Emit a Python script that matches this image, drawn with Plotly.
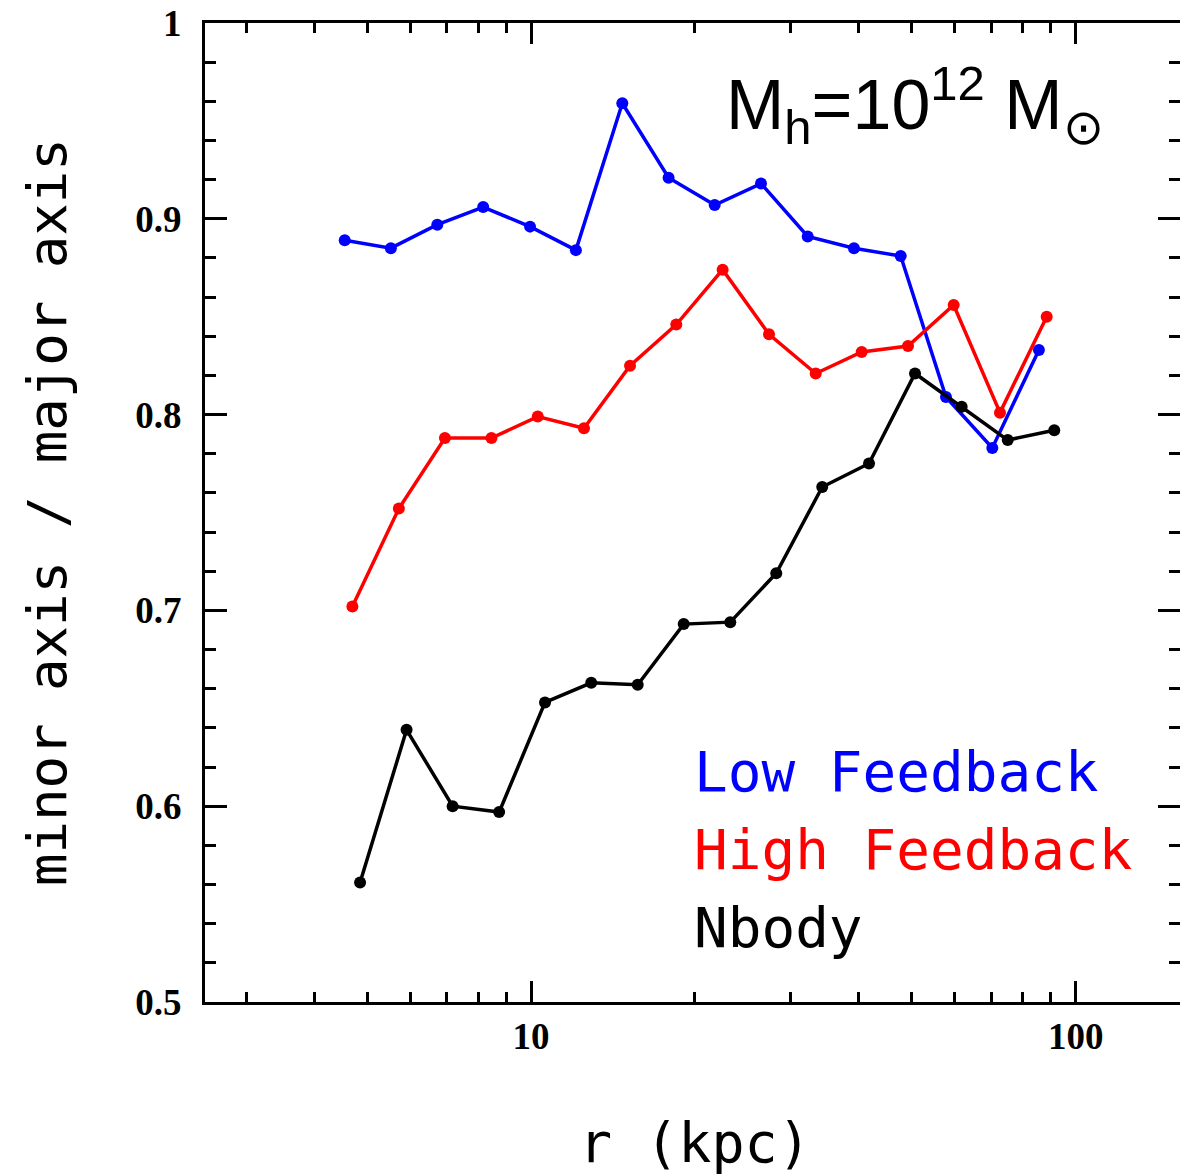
import plotly.graph_objects as go

# ---- data ----
r_low = [4.55, 5.53, 6.73, 8.17, 9.96, 12.09, 14.71, 17.89, 21.74, 26.44, 32.21, 39.17, 47.72, 57.79, 70.29, 85.6]
q_low = [0.889, 0.885, 0.897, 0.906, 0.896, 0.884, 0.959, 0.921, 0.907, 0.918, 0.891, 0.885, 0.881, 0.809, 0.783, 0.833]

r_high = [4.70, 5.72, 6.95, 8.46, 10.29, 12.51, 15.20, 18.48, 22.48, 27.35, 33.32, 40.47, 49.22, 59.70, 72.61, 88.46]
q_high = [0.702, 0.752, 0.788, 0.788, 0.799, 0.793, 0.825, 0.846, 0.874, 0.841, 0.821, 0.832, 0.835, 0.856, 0.801, 0.850]

r_nbody = [4.855, 5.91, 7.18, 8.74, 10.61, 12.90, 15.70, 19.07, 23.22, 28.20, 34.25, 41.74, 50.70, 61.75, 75.03, 91.34]
q_nbody = [0.561, 0.639, 0.600, 0.597, 0.653, 0.663, 0.662, 0.693, 0.694, 0.719, 0.763, 0.775, 0.821, 0.804, 0.787, 0.792]

x_major = [10, 100]
x_major_text = ["10", "100"]
x_minor = [3, 4, 5, 6, 7, 8, 9, 20, 30, 40, 50, 60, 70, 80, 90]
y_major = [0.5, 0.6, 0.7, 0.8, 0.9, 1.0]
y_major_text = ["0.5", "0.6", "0.7", "0.8", "0.9", "1"]

series = [
    ("Low Feedback", r_low, q_low, "#0000ff"),
    ("High Feedback", r_high, q_high, "#ff0000"),
    ("Nbody", r_nbody, q_nbody, "#000000"),
]

W, H = 1180, 1176
L, R, T, B = 205, 0, 23, 174

def px(xp):
    return (xp - L) / (W - L - R)

def py(yp):
    return (H - B - yp) / (H - T - B)

fig = go.Figure()
for name, xs, ys, col in series:
    fig.add_trace(go.Scatter(x=xs, y=ys, mode="lines+markers", name=name,
                             line=dict(color=col, width=3.5),
                             marker=dict(color=col, size=12),
                             showlegend=False))

tickfont = dict(family="Liberation Serif", size=37, color="black", weight="bold")
mono = "DejaVu Sans Mono"

ytick_common = dict(range=[0.5, 1.0], tickmode="array", tickvals=y_major,
                    ticks="inside", ticklen=22, tickwidth=2.5, tickcolor="black",
                    showgrid=False, zeroline=False,
                    minor=dict(dtick=0.02, tick0=0.5, ticks="inside",
                               ticklen=11, tickwidth=2.5, tickcolor="black", showgrid=False))

fig.update_layout(
    width=W, height=H,
    margin=dict(l=L, r=R, t=T, b=B, pad=0),
    paper_bgcolor="white", plot_bgcolor="white",
    xaxis=dict(type="log", range=[0.4015, 2.1915],
               tickmode="array", tickvals=x_major, ticktext=x_major_text,
               ticks="inside", ticklen=21, tickwidth=2.5, tickcolor="black",
               showline=True, linewidth=3, linecolor="black", mirror="ticks",
               showgrid=False, zeroline=False, tickfont=tickfont,
               ticklabelstandoff=0,
               minor=dict(tickmode="array", tickvals=x_minor, ticks="inside",
                          ticklen=10, tickwidth=2.5, tickcolor="black", showgrid=False)),
    yaxis=dict(**ytick_common, ticktext=y_major_text,
               showline=True, linewidth=3, linecolor="black", mirror=False,
               tickfont=tickfont, ticklabelstandoff=13),
    yaxis2=dict(**ytick_common, overlaying="y", side="right", anchor="x",
                showline=False, showticklabels=False),
)
# invisible trace to activate the right-hand tick axis
fig.add_trace(go.Scatter(x=[r_low[0]], y=[q_low[0]], yaxis="y2", mode="markers",
                         marker=dict(opacity=0), showlegend=False, hoverinfo="skip"))

ann = []
labels = [("Low Feedback", "#0000ff", 771), ("High Feedback", "#ff0000", 849), ("Nbody", "#000000", 927)]
for txt, col, yc in labels:
    ann.append(dict(text=txt, x=px(692), y=py(yc), xref="paper", yref="paper",
                    xanchor="left", yanchor="middle", showarrow=False,
                    font=dict(family=mono, size=56, color=col)))

ann.append(dict(text="minor axis / major axis", x=px(47), y=py(512), xref="paper", yref="paper",
                xanchor="center", yanchor="middle", textangle=-90, showarrow=False,
                font=dict(family=mono, size=54, color="black")))
ann.append(dict(text="r (kpc)", x=px(695), y=py(1143), xref="paper", yref="paper",
                xanchor="center", yanchor="middle", showarrow=False,
                font=dict(family=mono, size=55, color="black")))
ann.append(dict(text="M<sub>h</sub>=10<sup>12</sup> M<sub>⊙</sub>", x=px(724), y=py(105),
                xref="paper", yref="paper", xanchor="left", yanchor="middle", showarrow=False,
                font=dict(family="Liberation Sans", size=70, color="black")))
fig.update_layout(annotations=ann)

fig.write_html("out.html")
